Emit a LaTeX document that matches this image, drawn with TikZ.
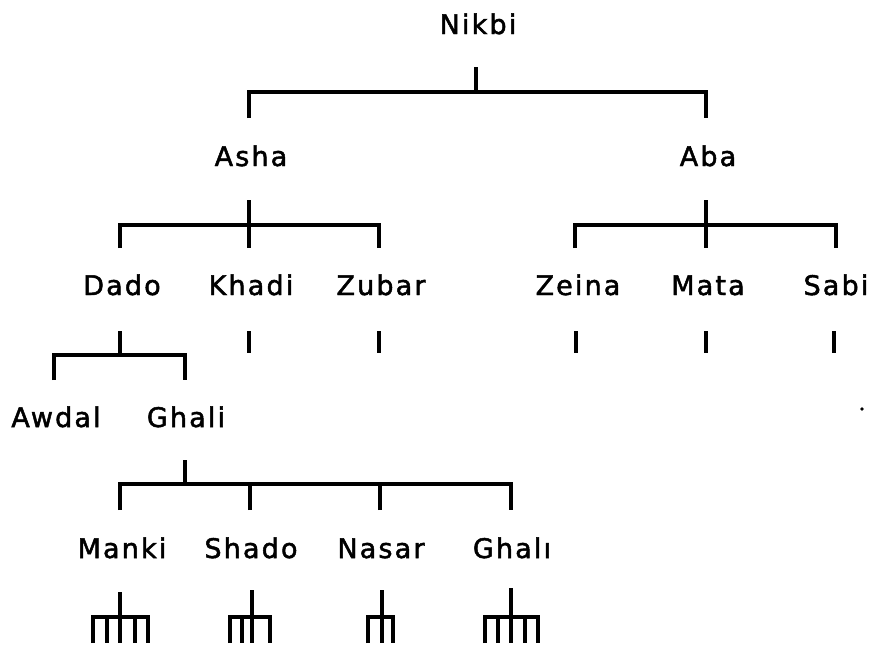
\documentclass[tikz,border=0pt]{standalone}
\usepackage{fontspec}
\setmainfont[LetterSpace=8,FakeBold=1.8]{DejaVu Sans}
\begin{document}
\begin{tikzpicture}[x=1pt,y=-1pt,
  lbl/.style={anchor=base,inner sep=0pt,font=\fontsize{27}{31}\selectfont},
  ln/.style={line width=3.6pt,line cap=butt,line join=miter},
  comb/.style={line width=3.4pt,line cap=butt,line join=miter}]
\useasboundingbox (0,0) rectangle (872,645);
% names
\node[lbl] (nikbi) at (478,34) {Nikbi};
\node[lbl] (asha) at (251,166) {Asha};
\node[lbl] (aba) at (708,166) {Aba};
\node[lbl] (dado) at (122,295) {Dado};
\node[lbl] (khadi) at (251,295) {Khadi};
\node[lbl] (zubar) at (381,295) {Zubar};
\node[lbl] (zeina) at (578,295) {Zeina};
\node[lbl] (mata) at (708,295) {Mata};
\node[lbl] (sabi) at (836,295) {Sabi};
\node[lbl] (awdal) at (56,427) {Awdal};
\node[lbl] (ghali) at (186,427) {Ghali};
\node[lbl] (manki) at (122,558) {Manki};
\node[lbl] (shado) at (251,558) {Shado};
\node[lbl] (nasar) at (381,558) {Nasar};
\node[lbl] (ghali2) at (512,558) {Ghalı};
% Nikbi
\coordinate (nikbiS) at (476,67);
\coordinate (nikbiJ) at (476,92);
\coordinate (ashaT) at (249,118);
\coordinate (abaT) at (706,118);
\draw[ln] (nikbiS) -- (nikbiJ);
\draw[ln] (ashaT) |- (nikbiJ) -| (abaT);
% Asha
\coordinate (ashaS) at (249,200);
\coordinate (ashaJ) at (249,225);
\coordinate (dadoT) at (120,248);
\coordinate (khadiT) at (249,248);
\coordinate (zubarT) at (379,248);
\draw[ln] (ashaS) -- (khadiT);
\draw[ln] (dadoT) |- (ashaJ) -| (zubarT);
% Aba
\coordinate (abaS) at (706,200);
\coordinate (abaJ) at (706,225);
\coordinate (zeinaT) at (575,248);
\coordinate (mataT) at (706,248);
\coordinate (sabiT) at (836,248);
\draw[ln] (abaS) -- (mataT);
\draw[ln] (zeinaT) |- (abaJ) -| (sabiT);
% single stubs
\foreach \x in {249,379,576,706,834}{
  \draw[ln] (\x,331) -- (\x,353);
}
% Dado
\coordinate (dadoS) at (120,331);
\coordinate (dadoJ) at (120,355);
\coordinate (awdalT) at (54,380);
\coordinate (ghaliT) at (185,380);
\draw[ln] (dadoS) -- (dadoJ);
\draw[ln] (awdalT) |- (dadoJ) -| (ghaliT);
% Ghali
\coordinate (ghaliS) at (185,460);
\coordinate (ghaliJ) at (185,484);
\coordinate (mankiT) at (120,510);
\coordinate (shadoT) at (250,510);
\coordinate (nasarT) at (380,510);
\coordinate (ghali2T) at (511,510);
\draw[ln] (ghaliS) -- (ghaliJ);
\draw[ln] (mankiT) |- (ghaliJ) -| (ghali2T);
\draw[ln] (shadoT) -- (250,484);
\draw[ln] (nasarT) -- (380,484);
% combs
\draw[comb] (120,592) -- (120,643);
\draw[comb] (93,643) |- (148,617) -- (148,643);
\foreach \x in {107,135}{\draw[comb] (\x,617) -- (\x,643);}
\draw[comb] (252,590) -- (252,643);
\draw[comb] (230,643) |- (270,617) -- (270,643);
\draw[comb] (242,617) -- (242,643);
\draw[comb] (382,590) -- (382,643);
\draw[comb] (368,643) |- (393,617) -- (393,643);
\draw[comb] (511,588) -- (511,643);
\draw[comb] (485,643) |- (538,617) -- (538,643);
\foreach \x in {498,525}{\draw[comb] (\x,617) -- (\x,643);}
% speck
\fill (862,409) circle (1.8);
\end{tikzpicture}
\end{document}
